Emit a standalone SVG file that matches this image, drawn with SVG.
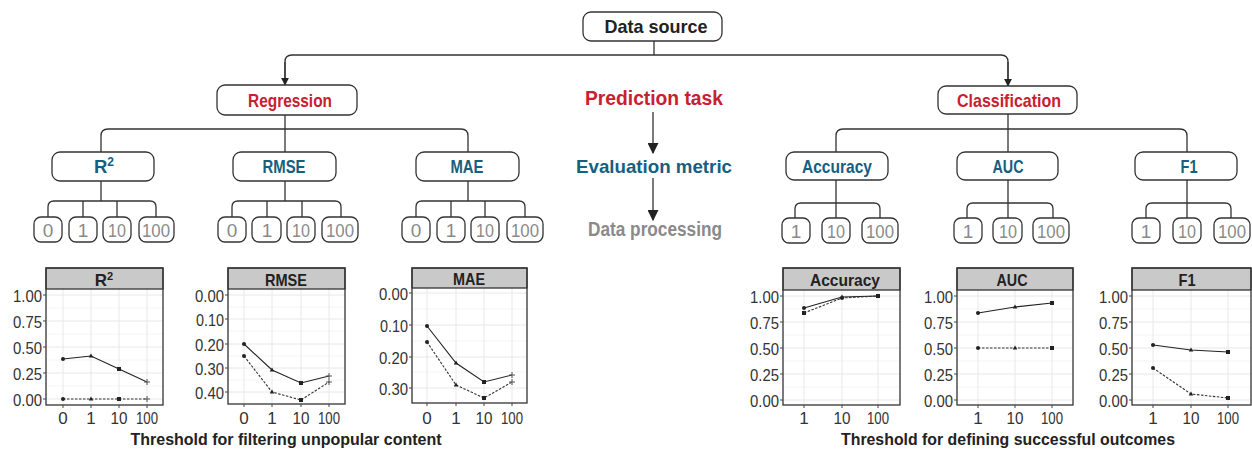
<svg xmlns="http://www.w3.org/2000/svg" width="1252" height="450" viewBox="0 0 1252 450">
<defs>
<style>
.box{fill:#fff;stroke:#333;stroke-width:1.3}
.conn{fill:none;stroke:#333;stroke-width:1.3}
.red{fill:#c8202f;font-family:"Liberation Sans",Arial,sans-serif;font-weight:bold;text-anchor:middle}
.teal{fill:#15607f;font-family:"Liberation Sans",Arial,sans-serif;font-weight:bold;font-size:18.5px;text-anchor:middle}
.dark{fill:#222;font-family:"Liberation Sans",Arial,sans-serif;font-weight:bold;text-anchor:middle}
.leaft{fill:#8a8a8a;font-family:"Liberation Sans",Arial,sans-serif;font-size:19px;text-anchor:middle}
.gray{fill:#8a8a8a;font-family:"Liberation Sans",Arial,sans-serif;font-weight:bold;text-anchor:middle}
.frame{fill:none;stroke:#333;stroke-width:1.3}
.hdr{fill:#c9c9c9;stroke:#333;stroke-width:1.3}
.gmaj{stroke:#e8e8e8;stroke-width:1}
.gmin{stroke:#f3f3f3;stroke-width:0.8}
.tick{stroke:#444;stroke-width:1}
.ylab{fill:#333;font-family:"Liberation Sans",Arial,sans-serif;font-size:17px;text-anchor:end}
.xlab{fill:#333;font-family:"Liberation Sans",Arial,sans-serif;font-size:17px;text-anchor:middle}
.ptitle{fill:#222;font-family:"Liberation Sans",Arial,sans-serif;font-size:17px;font-weight:bold;text-anchor:middle}
.sol{fill:none;stroke:#222;stroke-width:1.1}
.dot{fill:none;stroke:#333;stroke-width:1.1;stroke-dasharray:2.5 1.5}
.axt{fill:#222;font-family:"Liberation Sans",Arial,sans-serif;font-size:16.5px;font-weight:bold;text-anchor:middle}
</style>
<marker id="arr" viewBox="0 0 10 10" refX="9" refY="5" markerWidth="8" markerHeight="8" orient="auto" markerUnits="userSpaceOnUse">
<path d="M0,0 L10,5 L0,10 z" fill="#222"/>
</marker>
<marker id="arr2" viewBox="0 0 10 10" refX="9" refY="5" markerWidth="11" markerHeight="11" orient="auto" markerUnits="userSpaceOnUse">
<path d="M0,0 L10,5 L0,10 z" fill="#222"/>
</marker>
<circle id="mc" r="2" fill="#222"/>
<path id="mt" d="M0,-2.5 L2.3,1.6 L-2.3,1.6 z" fill="#222"/>
<rect id="ms" x="-2" y="-2" width="4" height="4" fill="#222"/>
<path id="mp" d="M-3,0 H3 M0,-3 V3" stroke="#555" stroke-width="1"/>
</defs>

<g id="connectors">
<path class="conn" d="M654,41 V55"/>
<path class="conn" d="M285,84 V62 Q285,55 292,55 H1001 Q1008,55 1008,62 V85"/>
<path class="conn" d="M285,62 V85" marker-end="url(#arr)"/>
<path class="conn" d="M1008,62 V86" marker-end="url(#arr)"/>
<path class="conn" d="M285,115 V152"/>
<path class="conn" d="M101,152 V136 Q101,129 108,129 H461 Q468,129 468,136 V152"/>
<path class="conn" d="M101,181 V201 M48,217 V207 Q48,201 54,201 H150 Q156,201 156,207 V217 M83,201 V217 M117,201 V217"/>
<path class="conn" d="M285,181 V201 M232,217 V207 Q232,201 238,201 H335 Q341,201 341,207 V217 M267,201 V217 M302,201 V217"/>
<path class="conn" d="M468,181 V201 M416,217 V207 Q416,201 422,201 H519 Q525,201 525,207 V217 M451,201 V217 M485,201 V217"/>
<path class="conn" d="M1008,114 V152"/>
<path class="conn" d="M836,152 V136 Q836,129 843,129 H1180 Q1187,129 1187,136 V152"/>
<path class="conn" d="M836,180 V218 M795,218 V209 Q795,203 801,203 H874 Q880,203 880,209 V218"/>
<path class="conn" d="M1008,180 V218 M967,218 V209 Q967,203 973,203 H1047 Q1053,203 1053,209 V218"/>
<path class="conn" d="M1187,180 V218 M1146,218 V209 Q1146,203 1152,203 H1225 Q1231,203 1231,209 V218"/>
<path class="conn" stroke-width="2" d="M653,112 V153" marker-end="url(#arr2)"/>
<path class="conn" stroke-width="2" d="M653,178 V220" marker-end="url(#arr2)"/>
</g>

<g id="legend-labels">
<text class="red" x="654" y="105" font-size="20" textLength="138" lengthAdjust="spacingAndGlyphs">Prediction task</text>
<text class="teal" x="654" y="173" font-size="20" textLength="156" lengthAdjust="spacingAndGlyphs">Evaluation metric</text>
<text class="gray" x="655" y="236" font-size="19.5" textLength="134" lengthAdjust="spacingAndGlyphs">Data processing</text>
</g>

<g id="n-datasource"><rect class="box" x="583" y="12" width="139" height="29" rx="8"/><text class="dark" x="656" y="33" font-size="18.5" textLength="103" lengthAdjust="spacingAndGlyphs">Data source</text></g>
<g id="n-regression"><rect class="box" x="217" y="85" width="140" height="30" rx="8"/><text class="red" x="290" y="107" font-size="19" textLength="84" lengthAdjust="spacingAndGlyphs">Regression</text></g>
<g id="n-classification"><rect class="box" x="938" y="86" width="139" height="28" rx="8"/><text class="red" x="1009" y="107" font-size="19" textLength="104" lengthAdjust="spacingAndGlyphs">Classification</text></g>

<g id="n-r2"><rect class="box" x="52" y="152" width="102" height="29" rx="8"/><text class="teal" x="104" y="173">R<tspan font-size="12" dy="-7">2</tspan></text></g>
<g id="n-rmse"><rect class="box" x="233" y="152" width="103" height="29" rx="8"/><text class="teal" x="284" y="173" textLength="43" lengthAdjust="spacingAndGlyphs">RMSE</text></g>
<g id="n-mae"><rect class="box" x="416" y="152" width="103" height="29" rx="8"/><text class="teal" x="467" y="173" textLength="33" lengthAdjust="spacingAndGlyphs">MAE</text></g>
<g id="n-accuracy"><rect class="box" x="786" y="152" width="102" height="28" rx="8"/><text class="teal" x="837" y="173" textLength="70" lengthAdjust="spacingAndGlyphs">Accuracy</text></g>
<g id="n-auc"><rect class="box" x="957" y="152" width="101" height="28" rx="8"/><text class="teal" x="1008" y="173" textLength="31" lengthAdjust="spacingAndGlyphs">AUC</text></g>
<g id="n-f1"><rect class="box" x="1135" y="152" width="102" height="28" rx="8"/><text class="teal" x="1189" y="173" textLength="17" lengthAdjust="spacingAndGlyphs">F1</text></g>

<g id="leaves-r2">
<rect class="box" x="34" y="217" width="28" height="25" rx="7"/><text class="leaft" x="48" y="237">0</text>
<rect class="box" x="69" y="217" width="28" height="25" rx="7"/><text class="leaft" x="83" y="237">1</text>
<rect class="box" x="103" y="217" width="28" height="25" rx="7"/><text class="leaft" x="117" y="237" textLength="18" lengthAdjust="spacingAndGlyphs">10</text>
<rect class="box" x="139" y="217" width="35" height="25" rx="7"/><text class="leaft" x="156" y="237" textLength="28" lengthAdjust="spacingAndGlyphs">100</text>
</g>
<g id="leaves-rmse">
<rect class="box" x="218" y="217" width="28" height="25" rx="7"/><text class="leaft" x="232" y="237">0</text>
<rect class="box" x="252" y="217" width="29" height="25" rx="7"/><text class="leaft" x="267" y="237">1</text>
<rect class="box" x="287" y="217" width="28" height="25" rx="7"/><text class="leaft" x="301" y="237" textLength="18" lengthAdjust="spacingAndGlyphs">10</text>
<rect class="box" x="322" y="217" width="36" height="25" rx="7"/><text class="leaft" x="340" y="237" textLength="28" lengthAdjust="spacingAndGlyphs">100</text>
</g>
<g id="leaves-mae">
<rect class="box" x="402" y="217" width="28" height="25" rx="7"/><text class="leaft" x="416" y="237">0</text>
<rect class="box" x="437" y="217" width="28" height="25" rx="7"/><text class="leaft" x="451" y="237">1</text>
<rect class="box" x="471" y="217" width="28" height="25" rx="7"/><text class="leaft" x="485" y="237" textLength="18" lengthAdjust="spacingAndGlyphs">10</text>
<rect class="box" x="507" y="217" width="36" height="25" rx="7"/><text class="leaft" x="525" y="237" textLength="28" lengthAdjust="spacingAndGlyphs">100</text>
</g>
<g id="leaves-accuracy">
<rect class="box" x="782" y="218" width="28" height="25" rx="7"/><text class="leaft" x="796" y="238">1</text>
<rect class="box" x="822" y="218" width="28" height="25" rx="7"/><text class="leaft" x="836" y="238" textLength="18" lengthAdjust="spacingAndGlyphs">10</text>
<rect class="box" x="862" y="218" width="36" height="25" rx="7"/><text class="leaft" x="880" y="238" textLength="28" lengthAdjust="spacingAndGlyphs">100</text>
</g>
<g id="leaves-auc">
<rect class="box" x="954" y="218" width="28" height="25" rx="7"/><text class="leaft" x="968" y="238">1</text>
<rect class="box" x="993" y="218" width="29" height="25" rx="7"/><text class="leaft" x="1008" y="238" textLength="18" lengthAdjust="spacingAndGlyphs">10</text>
<rect class="box" x="1033" y="218" width="36" height="25" rx="7"/><text class="leaft" x="1051" y="238" textLength="28" lengthAdjust="spacingAndGlyphs">100</text>
</g>
<g id="leaves-f1">
<rect class="box" x="1132" y="218" width="28" height="25" rx="7"/><text class="leaft" x="1146" y="238">1</text>
<rect class="box" x="1173" y="218" width="28" height="25" rx="7"/><text class="leaft" x="1187" y="238" textLength="18" lengthAdjust="spacingAndGlyphs">10</text>
<rect class="box" x="1214" y="218" width="36" height="25" rx="7"/><text class="leaft" x="1232" y="238" textLength="28" lengthAdjust="spacingAndGlyphs">100</text>
</g>

<g id="chart-r2">
<path class="gmin" d="M46,386 H163 M46,360 H163 M46,334 H163 M46,308 H163"/>
<path class="gmaj" d="M46,399 H163 M46,373 H163 M46,347 H163 M46,321 H163 M46,295 H163 M63,289 V405 M91,289 V405 M119,289 V405 M147,289 V405"/>
<rect class="hdr" x="46" y="268" width="117" height="21"/>
<rect class="frame" x="46" y="268" width="117" height="137"/>
<text class="ptitle" x="104" y="286">R<tspan font-size="11" dy="-6">2</tspan></text>
<path class="tick" d="M43,399 H46 M43,373 H46 M43,347 H46 M43,321 H46 M43,295 H46 M63,405 V408 M91,405 V408 M119,405 V408 M147,405 V408"/>
<text class="ylab" x="42" y="302" textLength="29" lengthAdjust="spacingAndGlyphs">1.00</text><text class="ylab" x="42" y="328" textLength="29" lengthAdjust="spacingAndGlyphs">0.75</text><text class="ylab" x="42" y="354" textLength="29" lengthAdjust="spacingAndGlyphs">0.50</text><text class="ylab" x="42" y="380" textLength="29" lengthAdjust="spacingAndGlyphs">0.25</text><text class="ylab" x="42" y="406" textLength="29" lengthAdjust="spacingAndGlyphs">0.00</text>
<text class="xlab" x="63" y="424">0</text><text class="xlab" x="91" y="424">1</text><text class="xlab" x="119" y="424" textLength="17" lengthAdjust="spacingAndGlyphs">10</text><text class="xlab" x="147" y="424" textLength="22" lengthAdjust="spacingAndGlyphs">100</text>
<polyline class="sol" points="63,359 91,356 119,369 147,382"/>
<polyline class="dot" points="63,399 91,399 119,399 147,399"/>
<use href="#mc" x="63" y="359"/><use href="#mt" x="91" y="356"/><use href="#ms" x="119" y="369"/><use href="#mp" x="147" y="382"/>
<use href="#mc" x="63" y="399"/><use href="#mt" x="91" y="399"/><use href="#ms" x="119" y="399"/><use href="#mp" x="147" y="399"/>
</g>

<g id="chart-rmse">
<path class="gmin" d="M228,307 H345 M228,331 H345 M228,356 H345 M228,380 H345"/>
<path class="gmaj" d="M228,295 H345 M228,319 H345 M228,344 H345 M228,368 H345 M228,392 H345 M244,289 V404 M272,289 V404 M301,289 V404 M329,289 V404"/>
<rect class="hdr" x="228" y="268" width="117" height="21"/>
<rect class="frame" x="228" y="268" width="117" height="136"/>
<text class="ptitle" x="286" y="286" textLength="42" lengthAdjust="spacingAndGlyphs">RMSE</text>
<path class="tick" d="M225,295 H228 M225,319 H228 M225,344 H228 M225,368 H228 M225,392 H228 M244,404 V407 M272,404 V407 M301,404 V407 M329,404 V407"/>
<text class="ylab" x="224" y="302" textLength="29" lengthAdjust="spacingAndGlyphs">0.00</text><text class="ylab" x="224" y="326" textLength="28" lengthAdjust="spacingAndGlyphs">0.10</text><text class="ylab" x="224" y="351" textLength="29" lengthAdjust="spacingAndGlyphs">0.20</text><text class="ylab" x="224" y="375" textLength="29" lengthAdjust="spacingAndGlyphs">0.30</text><text class="ylab" x="224" y="399" textLength="29" lengthAdjust="spacingAndGlyphs">0.40</text>
<text class="xlab" x="244" y="424">0</text><text class="xlab" x="272" y="424">1</text><text class="xlab" x="301" y="424" textLength="17" lengthAdjust="spacingAndGlyphs">10</text><text class="xlab" x="329" y="424" textLength="22" lengthAdjust="spacingAndGlyphs">100</text>
<polyline class="sol" points="244,344 272,370 301,383 329,376"/>
<polyline class="dot" points="244,356 272,392 301,400 329,382"/>
<use href="#mc" x="244" y="344"/><use href="#mt" x="272" y="370"/><use href="#ms" x="301" y="383"/><use href="#mp" x="329" y="376"/>
<use href="#mc" x="244" y="356"/><use href="#mt" x="272" y="392"/><use href="#ms" x="301" y="400"/><use href="#mp" x="329" y="382"/>
</g>

<g id="chart-mae">
<path class="gmin" d="M412,309 H527 M412,341 H527 M412,372 H527"/>
<path class="gmaj" d="M412,293 H527 M412,325 H527 M412,357 H527 M412,388 H527 M427,288 V403 M456,288 V403 M484,288 V403 M512,288 V403"/>
<rect class="hdr" x="412" y="268" width="115" height="20"/>
<rect class="frame" x="412" y="268" width="115" height="135"/>
<text class="ptitle" x="469" y="285" textLength="32" lengthAdjust="spacingAndGlyphs">MAE</text>
<path class="tick" d="M409,293 H412 M409,325 H412 M409,357 H412 M409,388 H412 M427,403 V406 M456,403 V406 M484,403 V406 M512,403 V406"/>
<text class="ylab" x="408" y="300" textLength="29" lengthAdjust="spacingAndGlyphs">0.00</text><text class="ylab" x="408" y="332" textLength="28" lengthAdjust="spacingAndGlyphs">0.10</text><text class="ylab" x="408" y="364" textLength="29" lengthAdjust="spacingAndGlyphs">0.20</text><text class="ylab" x="408" y="395" textLength="29" lengthAdjust="spacingAndGlyphs">0.30</text>
<text class="xlab" x="427" y="424">0</text><text class="xlab" x="456" y="424">1</text><text class="xlab" x="484" y="424" textLength="17" lengthAdjust="spacingAndGlyphs">10</text><text class="xlab" x="512" y="424" textLength="22" lengthAdjust="spacingAndGlyphs">100</text>
<polyline class="sol" points="427,326 456,363 484,382 512,375"/>
<polyline class="dot" points="427,342 456,385 484,398 512,382"/>
<use href="#mc" x="427" y="326"/><use href="#mt" x="456" y="363"/><use href="#ms" x="484" y="382"/><use href="#mp" x="512" y="375"/>
<use href="#mc" x="427" y="342"/><use href="#mt" x="456" y="385"/><use href="#ms" x="484" y="398"/><use href="#mp" x="512" y="382"/>
</g>

<g id="chart-accuracy">
<path class="gmin" d="M783,387 H900 M783,361 H900 M783,335 H900 M783,309 H900"/>
<path class="gmaj" d="M783,400 H900 M783,374 H900 M783,348 H900 M783,322 H900 M783,296 H900 M804,290 V405 M842,290 V405 M878,290 V405"/>
<rect class="hdr" x="783" y="268" width="117" height="22"/>
<rect class="frame" x="783" y="268" width="117" height="137"/>
<text class="ptitle" x="845" y="286" textLength="70" lengthAdjust="spacingAndGlyphs">Accuracy</text>
<path class="tick" d="M780,400 H783 M780,374 H783 M780,348 H783 M780,322 H783 M780,296 H783 M804,405 V408 M842,405 V408 M878,405 V408"/>
<text class="ylab" x="779" y="303" textLength="29" lengthAdjust="spacingAndGlyphs">1.00</text><text class="ylab" x="779" y="329" textLength="29" lengthAdjust="spacingAndGlyphs">0.75</text><text class="ylab" x="779" y="355" textLength="29" lengthAdjust="spacingAndGlyphs">0.50</text><text class="ylab" x="779" y="381" textLength="29" lengthAdjust="spacingAndGlyphs">0.25</text><text class="ylab" x="779" y="407" textLength="29" lengthAdjust="spacingAndGlyphs">0.00</text>
<text class="xlab" x="804" y="424">1</text><text class="xlab" x="842" y="424" textLength="17" lengthAdjust="spacingAndGlyphs">10</text><text class="xlab" x="878" y="424" textLength="22" lengthAdjust="spacingAndGlyphs">100</text>
<polyline class="sol" points="804,308 842,297 878,296"/>
<polyline class="dot" points="804,313 842,298 878,296"/>
<use href="#mc" x="804" y="308"/><use href="#mt" x="842" y="297"/><use href="#ms" x="878" y="296"/>
<use href="#ms" x="804" y="313"/><use href="#mc" x="842" y="298"/>
</g>

<g id="chart-auc">
<path class="gmin" d="M957,387 H1073 M957,361 H1073 M957,335 H1073 M957,309 H1073"/>
<path class="gmaj" d="M957,400 H1073 M957,374 H1073 M957,348 H1073 M957,322 H1073 M957,296 H1073 M978,290 V405 M1015,290 V405 M1052,290 V405"/>
<rect class="hdr" x="957" y="268" width="116" height="22"/>
<rect class="frame" x="957" y="268" width="116" height="137"/>
<text class="ptitle" x="1012" y="286" textLength="31" lengthAdjust="spacingAndGlyphs">AUC</text>
<path class="tick" d="M954,400 H957 M954,374 H957 M954,348 H957 M954,322 H957 M954,296 H957 M978,405 V408 M1015,405 V408 M1052,405 V408"/>
<text class="ylab" x="953" y="303" textLength="29" lengthAdjust="spacingAndGlyphs">1.00</text><text class="ylab" x="953" y="329" textLength="29" lengthAdjust="spacingAndGlyphs">0.75</text><text class="ylab" x="953" y="355" textLength="29" lengthAdjust="spacingAndGlyphs">0.50</text><text class="ylab" x="953" y="381" textLength="29" lengthAdjust="spacingAndGlyphs">0.25</text><text class="ylab" x="953" y="407" textLength="29" lengthAdjust="spacingAndGlyphs">0.00</text>
<text class="xlab" x="978" y="424">1</text><text class="xlab" x="1015" y="424" textLength="17" lengthAdjust="spacingAndGlyphs">10</text><text class="xlab" x="1052" y="424" textLength="22" lengthAdjust="spacingAndGlyphs">100</text>
<polyline class="sol" points="978,313 1015,307 1052,303"/>
<polyline class="dot" points="978,348 1015,348 1052,348"/>
<use href="#mc" x="978" y="313"/><use href="#mt" x="1015" y="307"/><use href="#ms" x="1052" y="303"/>
<use href="#mc" x="978" y="348"/><use href="#mt" x="1015" y="348"/><use href="#ms" x="1052" y="348"/>
</g>

<g id="chart-f1">
<path class="gmin" d="M1132,387 H1251 M1132,361 H1251 M1132,335 H1251 M1132,309 H1251"/>
<path class="gmaj" d="M1132,400 H1251 M1132,374 H1251 M1132,348 H1251 M1132,322 H1251 M1132,296 H1251 M1153,290 V405 M1191,290 V405 M1228,290 V405"/>
<rect class="hdr" x="1132" y="268" width="119" height="22"/>
<rect class="frame" x="1132" y="268" width="119" height="137"/>
<text class="ptitle" x="1187" y="286" textLength="17" lengthAdjust="spacingAndGlyphs">F1</text>
<path class="tick" d="M1129,400 H1132 M1129,374 H1132 M1129,348 H1132 M1129,322 H1132 M1129,296 H1132 M1153,405 V408 M1191,405 V408 M1228,405 V408"/>
<text class="ylab" x="1128" y="303" textLength="29" lengthAdjust="spacingAndGlyphs">1.00</text><text class="ylab" x="1128" y="329" textLength="29" lengthAdjust="spacingAndGlyphs">0.75</text><text class="ylab" x="1128" y="355" textLength="29" lengthAdjust="spacingAndGlyphs">0.50</text><text class="ylab" x="1128" y="381" textLength="29" lengthAdjust="spacingAndGlyphs">0.25</text><text class="ylab" x="1128" y="407" textLength="29" lengthAdjust="spacingAndGlyphs">0.00</text>
<text class="xlab" x="1153" y="424">1</text><text class="xlab" x="1191" y="424" textLength="17" lengthAdjust="spacingAndGlyphs">10</text><text class="xlab" x="1228" y="424" textLength="22" lengthAdjust="spacingAndGlyphs">100</text>
<polyline class="sol" points="1153,345 1191,350 1228,352"/>
<polyline class="dot" points="1153,368 1191,394 1228,398"/>
<use href="#mc" x="1153" y="345"/><use href="#mt" x="1191" y="350"/><use href="#ms" x="1228" y="352"/>
<use href="#mc" x="1153" y="368"/><use href="#mt" x="1191" y="394"/><use href="#ms" x="1228" y="398"/>
</g>

<g id="axis-titles">
<text class="axt" x="286" y="445" textLength="311" lengthAdjust="spacingAndGlyphs">Threshold for filtering unpopular content</text>
<text class="axt" x="1008" y="445" textLength="334" lengthAdjust="spacingAndGlyphs">Threshold for defining successful outcomes</text>
</g>
</svg>
